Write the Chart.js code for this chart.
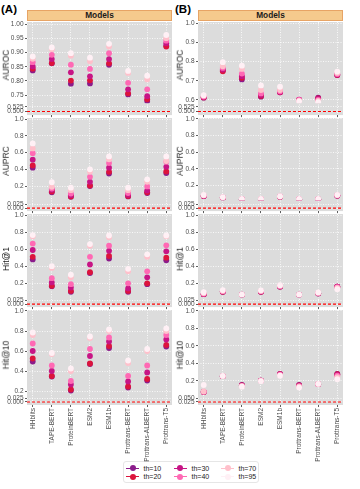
<!DOCTYPE html>
<html><head><meta charset="utf-8">
<script src="https://cdn.jsdelivr.net/npm/chart.js@4.4.1/dist/chart.umd.min.js"></script>
<style>
html,body{margin:0;padding:0;background:#fff;}
body{width:360px;height:489px;position:relative;overflow:hidden;font-family:"Liberation Sans",Arial,sans-serif;}
canvas{position:absolute;}
.tag{position:absolute;font-weight:bold;font-size:11.5px;color:#000;line-height:1;}
.strip{position:absolute;top:10px;height:11px;background:#F5CA8D;border:1px solid #E7A465;box-sizing:border-box;font-weight:bold;font-size:8.3px;text-align:center;line-height:9px;color:#1a1a1a;}
.ytitle{position:absolute;font-size:8.5px;color:#1a1a1a;transform:translate(-50%,-50%) rotate(-90deg);white-space:nowrap;line-height:1;}
#legend{position:absolute;left:123px;top:461px;width:136px;height:22px;border:1px solid #e6e6e6;border-radius:3px;box-sizing:border-box;background:#fff;}
.li{position:absolute;font-size:7px;color:#1a1a1a;line-height:1;}
.ll{position:absolute;height:1.6px;}
.lp{position:absolute;width:6px;height:6px;border-radius:50%;}
</style>
</head><body>
<div class="tag" style="left:1px;top:4px;">(A)</div>
<div class="tag" style="left:175px;top:4px;">(B)</div>
<div class="strip" style="left:27px;width:145px;">Models</div>
<div class="strip" style="left:198px;width:145px;">Models</div>
<div id="legend"></div>
<script>
// ---------------- data ----------------
const categories = ['HHblits','TAPE-BERT','ProteinBERT','ESM2','ESM1b','Prottrans-BERT','Prottrans-ALBERT','Prottrans-T5'];
const thresholds = ['th=10','th=20','th=30','th=40','th=70','th=95'];
const thColors = ['#8B1C8B','#DC143C','#C71585','#FF69B4','#FFC0CB','#FFF0F5'];
const metrics = ['AUROC','AUPRC','Hit@1','Hit@10'];

// rows: th=10, th=20, th=30, th=40, th=70, th=95 ; columns follow categories
const A_AUROC = [
  [0.837,0.862,0.790,0.791,0.857,0.752,0.729,0.924],
  [0.843,0.863,0.801,0.802,0.862,0.756,0.735,0.921],
  [0.851,0.877,0.830,0.816,0.877,0.770,0.746,0.933],
  [0.866,0.892,0.857,0.842,0.898,0.793,0.770,0.942],
  [0.878,0.912,0.889,0.869,0.921,0.828,0.805,0.951],
  [0.886,0.918,0.898,0.882,0.931,0.835,0.818,0.962]];
const B_AUROC = [
  [0.612,0.754,0.707,0.617,0.640,0.600,0.612,0.730],
  [0.613,0.750,0.716,0.621,0.640,0.600,0.608,0.730],
  [0.615,0.759,0.724,0.626,0.641,0.601,0.605,0.732],
  [0.618,0.767,0.738,0.634,0.645,0.600,0.600,0.735],
  [0.622,0.776,0.762,0.652,0.652,0.597,0.595,0.741],
  [0.625,0.797,0.779,0.676,0.669,0.592,0.588,0.748]];
const A_AUPRC = [
  [0.420,0.125,0.070,0.200,0.350,0.075,0.115,0.355],
  [0.447,0.135,0.075,0.205,0.370,0.080,0.125,0.375],
  [0.516,0.155,0.090,0.250,0.420,0.095,0.145,0.430],
  [0.594,0.170,0.110,0.310,0.475,0.115,0.195,0.490],
  [0.650,0.190,0.150,0.370,0.520,0.150,0.250,0.500],
  [0.710,0.245,0.180,0.400,0.555,0.180,0.280,0.555]];
const B_AUPRC = [
  [0.070,0.050,0.032,0.032,0.062,0.032,0.031,0.075],
  [0.072,0.051,0.032,0.033,0.063,0.032,0.032,0.076],
  [0.074,0.052,0.033,0.033,0.064,0.033,0.032,0.078],
  [0.076,0.053,0.033,0.034,0.065,0.033,0.033,0.080],
  [0.080,0.055,0.034,0.035,0.066,0.034,0.034,0.082],
  [0.084,0.058,0.036,0.036,0.068,0.035,0.035,0.085]];
const A_HIT1 = [
  [0.480,0.165,0.100,0.320,0.490,0.100,0.190,0.470],
  [0.510,0.170,0.110,0.330,0.520,0.110,0.200,0.500],
  [0.590,0.210,0.150,0.420,0.580,0.140,0.270,0.575],
  [0.665,0.260,0.190,0.510,0.640,0.200,0.340,0.645],
  [0.750,0.380,0.270,0.640,0.740,0.340,0.510,0.750],
  [0.765,0.400,0.300,0.660,0.760,0.370,0.540,0.760]];
const B_HIT1 = [
  [0.070,0.100,0.065,0.100,0.160,0.065,0.080,0.160],
  [0.072,0.102,0.065,0.102,0.162,0.065,0.082,0.162],
  [0.075,0.105,0.066,0.105,0.165,0.066,0.085,0.160],
  [0.078,0.108,0.066,0.108,0.168,0.066,0.087,0.155],
  [0.085,0.112,0.067,0.112,0.172,0.067,0.090,0.145],
  [0.095,0.120,0.068,0.118,0.178,0.068,0.093,0.130]];
const A_HIT10 = [
  [0.495,0.345,0.205,0.470,0.630,0.235,0.305,0.645],
  [0.525,0.350,0.215,0.475,0.650,0.245,0.320,0.660],
  [0.600,0.400,0.265,0.550,0.695,0.295,0.385,0.715],
  [0.675,0.455,0.300,0.620,0.735,0.350,0.455,0.760],
  [0.760,0.570,0.400,0.730,0.800,0.480,0.600,0.800],
  [0.785,0.580,0.425,0.745,0.815,0.505,0.620,0.825]];
const B_HIT10 = [
  [0.075,0.255,0.155,0.205,0.280,0.155,0.165,0.280],
  [0.075,0.255,0.150,0.205,0.278,0.150,0.165,0.278],
  [0.076,0.256,0.148,0.204,0.275,0.145,0.165,0.270],
  [0.078,0.256,0.145,0.203,0.272,0.140,0.166,0.260],
  [0.080,0.257,0.140,0.200,0.265,0.135,0.167,0.245],
  [0.155,0.258,0.135,0.198,0.260,0.125,0.168,0.220]];

// random-baseline (red dashed line) per row
const baselineA = [0.5, 0, 0, 0];
const baselineB = [0.5, 0, 0, 0.025];

// tick labels
const mainTicksA = [[0.75,0.80,0.85,0.90,0.95,1.00],[0.2,0.4,0.6,0.8,1.0],[0.2,0.4,0.6,0.8,1.0],[0.2,0.4,0.6,0.8,1.0]];
const mainTicksB = [[0.6,0.7,0.8,0.9,1.0],[0.2,0.4,0.6,0.8,1.0],[0.2,0.4,0.6,0.8,1.0],[0.2,0.4,0.6,0.8,1.0]];
const lowTicksA = [[0.500,0.525],[0.000,0.025],[0.000,0.025],[0.000,0.025]];
const lowTicksB = [[0.500,0.525],[0.000,0.025],[0.000,0.025],[0.025,0.050]];

// ---------------- layout (pixels) ----------------
const rows = [
  {top:22, split:104, bottom:116, title:65},
  {top:118, split:201, bottom:212, title:161},
  {top:214, split:298, bottom:308, title:259},
  {top:310, split:395, bottom:405, title:355}];
const mainRangeA = [[0.721,1.008],[0.03,1.015],[0.037,1.012],[0.16,1.01]];
const mainRangeB = [[0.583,1.007],[0.02,1.012],[0.037,1.012],[0.04,1.011]];
const lowRangeA = [[0.4794,0.5461],[-0.019,0.05],[-0.019,0.044],[-0.019,0.044]];
const lowRangeB = [[0.4794,0.5461],[-0.019,0.05],[-0.019,0.044],[0.006,0.069]];

const FONT = '"Liberation Sans", Arial, sans-serif';
const bgPlugin = {id:'bg', beforeDraw(chart){
  const {ctx, chartArea:a} = chart;
  ctx.save(); ctx.fillStyle = '#DCDCDC';
  ctx.fillRect(a.left, a.top, a.right - a.left, a.bottom - a.top);
  ctx.restore();
}};
const redPlugin = {id:'red', afterDatasetsDraw(chart, args, opts){
  const {ctx, chartArea:a} = chart;
  const y = chart.scales.yl.getPixelForValue(opts.value);
  ctx.save(); ctx.strokeStyle = '#FF0000'; ctx.lineWidth = 1.1; ctx.setLineDash([3,2]);
  ctx.beginPath(); ctx.moveTo(a.left, y); ctx.lineTo(a.right, y); ctx.stroke();
  ctx.restore();
}};

function makePanel(col, r, values){
  const row = rows[r];
  const isB = col === 'B';
  const isBottom = r === 3;
  const left = isB ? 170 : 0;
  const yW = isB ? 28 : 27;
  const plotRight = isB ? 343 : 172;
  const padR = 4;
  const width = plotRight + padR - left;
  const xh = isBottom ? 58 : 2;
  const height = 6 + (row.bottom - row.top) + xh;
  const cv = document.createElement('canvas');
  cv.width = width; cv.height = height;
  cv.style.left = left + 'px'; cv.style.top = (row.top - 6) + 'px';
  cv.style.width = width + 'px'; cv.style.height = height + 'px';
  document.body.appendChild(cv);

  const mainTicks = (isB ? mainTicksB : mainTicksA)[r];
  const lowTicks = (isB ? lowTicksB : lowTicksA)[r];
  const mr = (isB ? mainRangeB : mainRangeA)[r];
  const lr = (isB ? lowRangeB : lowRangeA)[r];
  const mainDec = (!isB && r === 0) ? 2 : 1;
  const base = (isB ? baselineB : baselineA)[r];

  const yCommon = (ticks, dec) => ({
    type:'linear', position:'left', stack:'s',
    afterBuildTicks: s => { s.ticks = ticks.map(v => ({value:v})); },
    afterFit: s => { s.width = yW; s.paddingTop = 0; s.paddingBottom = 0; },
    ticks:{ font:{size:6.5, family:FONT}, color:'#4D4D4D', padding:1.5, autoSkip:false,
            callback: v => Number(v).toFixed(dec) },
    grid:{ color:'#FFFFFF', lineWidth:0.8, tickColor:'#333333', tickLength:2, tickWidth:0.8 },
    border:{ display:false, dash:[1,1.5] }
  });

  // later thresholds are drawn on top (lower order = drawn last)
  const datasets = thresholds.map((t, k) => ({
    label:t, yAxisID:'y', order: thresholds.length - k,
    data: values[k].map((v, i) => ({x:i, y:v})),
    backgroundColor: thColors[k], borderColor: thColors[k],
    pointRadius:2.9, pointHoverRadius:2.9, borderWidth:0, pointBorderWidth:0
  }));

  new Chart(cv, {
    type:'scatter',
    data:{datasets},
    options:{
      responsive:false, animation:false, events:[], devicePixelRatio:1,
      layout:{padding:{top:6, left:0, right:padR, bottom:0}},
      plugins:{legend:{display:false}, tooltip:{enabled:false}, red:{value:base}},
      scales:{
        x:{ type:'linear', min:-0.3, max:7.3,
            afterBuildTicks: s => { s.ticks = categories.map((c, i) => ({value:i})); },
            afterFit: s => { s.height = xh; s.paddingLeft = 0; s.paddingRight = 0; },
            ticks:{ display:isBottom, autoSkip:false, minRotation:90, maxRotation:90, padding:1,
                    font:{size:6.5, family:FONT}, color:'#4D4D4D',
                    callback: v => categories[v] },
            grid:{ color:'#FFFFFF', lineWidth:0.8, tickColor:'#333333', tickLength:2, tickWidth:0.8 },
            border:{ display:false, dash:[1,1.5] } },
        y: Object.assign(yCommon(mainTicks, mainDec), {min:mr[0], max:mr[1], weight:1, stackWeight: row.split - row.top}),
        yl: Object.assign(yCommon(lowTicks, 3), {min:lr[0], max:lr[1], weight:0, stackWeight: row.bottom - row.split})
      }
    },
    plugins:[bgPlugin, redPlugin]
  });

  const tt = document.createElement('div');
  tt.className = 'ytitle';
  tt.textContent = metrics[r];
  tt.style.left = (isB ? 179.5 : 6) + 'px';
  tt.style.top = row.title + 'px';
  document.body.appendChild(tt);
}

const panelsA = [A_AUROC, A_AUPRC, A_HIT1, A_HIT10];
const panelsB = [B_AUROC, B_AUPRC, B_HIT1, B_HIT10];
panelsA.forEach((v, r) => makePanel('A', r, v));
panelsB.forEach((v, r) => makePanel('B', r, v));

// legend
const lg = document.getElementById('legend');
const lcols = [2, 49.5, 97];
const ltext = [19.5, 67.5, 114.5];
const lrows = [6.3, 14.7];
thresholds.forEach((t, k) => {
  const c = Math.floor(k / 2), rr = k % 2;
  const line = document.createElement('div');
  line.className = 'll'; line.style.background = thColors[k];
  line.style.left = lcols[c] + 'px'; line.style.width = '13px'; line.style.top = (lrows[rr] - 0.8) + 'px';
  const pt = document.createElement('div');
  pt.className = 'lp'; pt.style.background = thColors[k];
  pt.style.left = (lcols[c] + 3.5) + 'px'; pt.style.top = (lrows[rr] - 3) + 'px';
  const tx = document.createElement('div');
  tx.className = 'li'; tx.textContent = t;
  tx.style.left = ltext[c] + 'px'; tx.style.top = (lrows[rr] - 3.6) + 'px';
  lg.appendChild(line); lg.appendChild(pt); lg.appendChild(tx);
});
</script>
</body></html>
